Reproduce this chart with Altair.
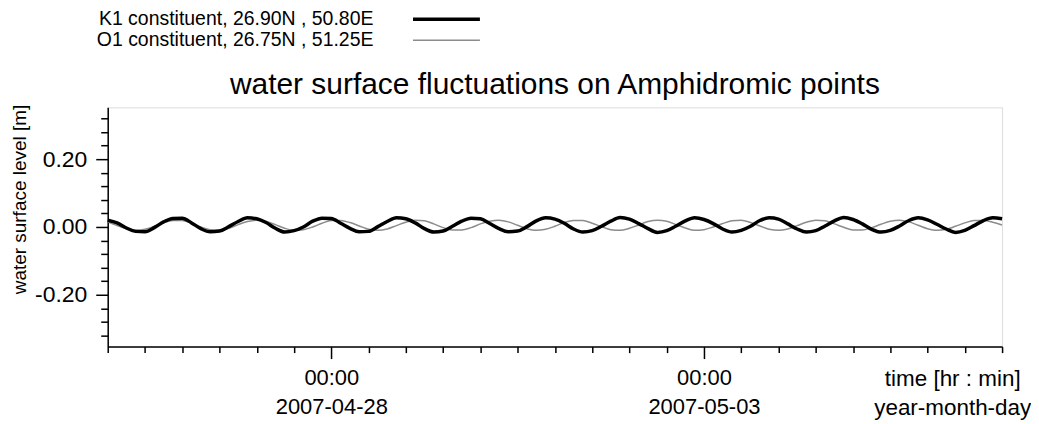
import altair as alt
import pandas as pd

FONT = "Liberation Sans"

series_names = ["K1 constituent, 26.90N , 50.80E", "O1 constituent, 26.75N , 51.25E"]
series_colors = ["#000000", "#8c8c8c"]
series_widths = [3.5, 1.5]

start_time = "2007-04-25 00:00"
end_time = "2007-05-07 00:00"
sample_step = "3h"

# water surface level [m], one value every 3 hours from 2007-04-25 00:00
k1_values = [
    0.020, 0.012, -0.003, -0.013, -0.014, -0.002, 0.015, 0.025,
    0.026, 0.012, -0.005, -0.014, -0.012, 0.001, 0.016, 0.027,
    0.024, 0.013, -0.004, -0.015, -0.011, 0.000, 0.017, 0.026,
    0.025, 0.011, -0.004, -0.014, -0.013, 0.001, 0.016, 0.027,
    0.024, 0.012, -0.005, -0.015, -0.012, 0.002, 0.017, 0.026,
    0.024, 0.010, -0.005, -0.014, -0.012, 0.001, 0.018, 0.027,
    0.023, 0.011, -0.006, -0.015, -0.011, 0.002, 0.017, 0.028,
    0.023, 0.010, -0.005, -0.016, -0.011, 0.003, 0.018, 0.027,
    0.022, 0.010, -0.006, -0.015, -0.010, 0.002, 0.019, 0.027,
    0.023, 0.009, -0.006, -0.015, -0.011, 0.003, 0.018, 0.028,
    0.022, 0.009, -0.007, -0.015, -0.010, 0.003, 0.019, 0.027,
    0.021, 0.008, -0.006, -0.016, -0.010, 0.004, 0.019, 0.027,
    0.024,
]
o1_values = [
    0.015, 0.004, -0.005, -0.010, -0.007, 0.002, 0.013, 0.019,
    0.019, 0.011, 0.000, -0.008, -0.010, -0.004, 0.007, 0.016,
    0.020, 0.016, 0.007, -0.004, -0.010, -0.008, 0.000, 0.011,
    0.019, 0.019, 0.013, 0.003, -0.007, -0.010, -0.006, 0.004,
    0.014, 0.020, 0.018, 0.009, -0.002, -0.009, -0.009, -0.002,
    0.009, 0.017, 0.020, 0.015, 0.005, -0.005, -0.010, -0.007,
    0.002, 0.013, 0.019, 0.019, 0.011, 0.001, -0.008, -0.010,
    -0.004, 0.006, 0.016, 0.020, 0.017, 0.007, -0.003, -0.010,
    -0.008, 0.000, 0.010, 0.018, 0.020, 0.013, 0.003, -0.007,
    -0.010, -0.006, 0.004, 0.014, 0.020, 0.018, 0.009, -0.001,
    -0.009, -0.009, -0.002, 0.008, 0.017, 0.020, 0.015, 0.005,
    -0.005, -0.010, -0.007, 0.002, 0.012, 0.019, 0.019, 0.014,
    0.006,
]

y_tick_values = [-0.32, -0.28, -0.24, -0.20, -0.16, -0.12, -0.08, -0.04, 0.00,
                 0.04, 0.08, 0.12, 0.16, 0.20, 0.24, 0.28, 0.32]
y_domain = [-0.353, 0.353]
x_minor_step = "12h"

# ---- build table ----
times = pd.date_range(start_time, periods=len(k1_values), freq=sample_step)
time_str = list(times.strftime("%Y-%m-%dT%H:%M:%SZ"))
df = pd.DataFrame({
    "time": time_str + time_str,
    "level": k1_values + o1_values,
    "series": [series_names[0]] * len(k1_values) + [series_names[1]] * len(o1_values),
})


def to_dt(ts):
    return alt.DateTime(year=ts.year, month=ts.month, date=ts.day,
                        hours=ts.hour, minutes=ts.minute, utc=True)


x_ticks = [to_dt(t) for t in pd.date_range(start_time, end_time, freq=x_minor_step)]
x_dom = [to_dt(pd.Timestamp(start_time)), to_dt(pd.Timestamp(end_time))]

x_major = "utchours(datum.value) == 0 && (utcdate(datum.value) == 28 || utcdate(datum.value) == 3)"
y_major = "abs(datum.value) < 1e-6 || abs(abs(datum.value) - 0.2) < 1e-6"

x_axis = alt.Axis(
    values=x_ticks, orient="bottom", grid=False,
    domain=True, domainColor="black", domainWidth=1.5,
    ticks=True, tickColor="black", tickWidth=1.5,
    tickSize={"condition": {"test": x_major, "value": 12}, "value": 6},
    labelExpr="(" + x_major + ") ? [utcFormat(datum.value, '%H:%M'), utcFormat(datum.value, '%Y-%m-%d')] : ''",
    labelFont=FONT, labelFontSize=22, labelColor="black", labelPadding=9,
    labelLineHeight=29, labelOverlap=False, labelBound=False, labelFlush=False,
    labelAlign="center", labelBaseline="top",
    title=["time [hr : min]", "year-month-day"], titleFont=FONT, titleFontSize=22.5,
    titleFontWeight="normal", titleColor="black", titleX=847, titleY=21,
    titleAlign="center", titleBaseline="top", titleLineHeight=29,
)

y_axis = alt.Axis(
    values=y_tick_values, orient="left", grid=False,
    domain=True, domainColor="black", domainWidth=1.5,
    ticks=True, tickColor="black", tickWidth=1.5,
    tickSize={"condition": {"test": y_major, "value": 12}, "value": 7},
    labelExpr="(" + y_major + ") ? (datum.value < -1e-6 ? '-' : '') + format(abs(datum.value), '.2f') : ''",
    labelFont=FONT, labelFontSize=23, labelColor="black", labelPadding=9,
    labelOverlap=False, labelBound=False, labelFlush=False,
    title="water surface level [m]", titleFont=FONT, titleFontSize=19,
    titleFontWeight="normal", titleColor="black", titleAngle=270,
    titleX=-88, titleY=92, titleAlign="center", titleBaseline="middle",
)

legend = alt.Legend(
    orient="none", legendX=330, legendY=-98, title=None, padding=0,
    symbolType="M-5,0H5", symbolSize=180, symbolFillColor="transparent",
    labelAlign="right", labelOffset={"expr": "-83"}, labelFont=FONT, labelFontSize=19.5,
    labelColor="black", labelLimit=500, rowPadding=0,
)

color = alt.Color("series:N", scale=alt.Scale(domain=series_names, range=series_colors), legend=legend)
width = alt.StrokeWidth("series:N", scale=alt.Scale(type="point", domain=series_names,
                                                    range=series_widths, padding=0), legend=legend)

base = alt.Chart(df).encode(
    x=alt.X("time:T", scale=alt.Scale(type="utc", domain=x_dom), axis=x_axis),
    y=alt.Y("level:Q", scale=alt.Scale(domain=y_domain, nice=False, zero=False), axis=y_axis),
    color=color,
    strokeWidth=width,
)

o1_line = base.transform_filter(alt.datum.series == series_names[1]).mark_line(interpolate="monotone")
k1_line = base.transform_filter(alt.datum.series == series_names[0]).mark_line(interpolate="monotone")

chart = alt.layer(o1_line, k1_line).properties(
    width=897, height=240,
    title=alt.Title("water surface fluctuations on Amphidromic points", font=FONT, fontSize=30,
                    fontWeight="normal", color="black", anchor="middle", frame="group",
                    offset={"expr": "-115"}, baseline="alphabetic"),
    autosize=alt.AutoSizeParams(type="none"),
    padding={"left": 100, "top": 99, "right": 29, "bottom": 74},
).configure_view(stroke="black", strokeWidth=1.5).configure(background="white")

chart.save("out.html", embed_options={"renderer": "svg", "actions": False})
